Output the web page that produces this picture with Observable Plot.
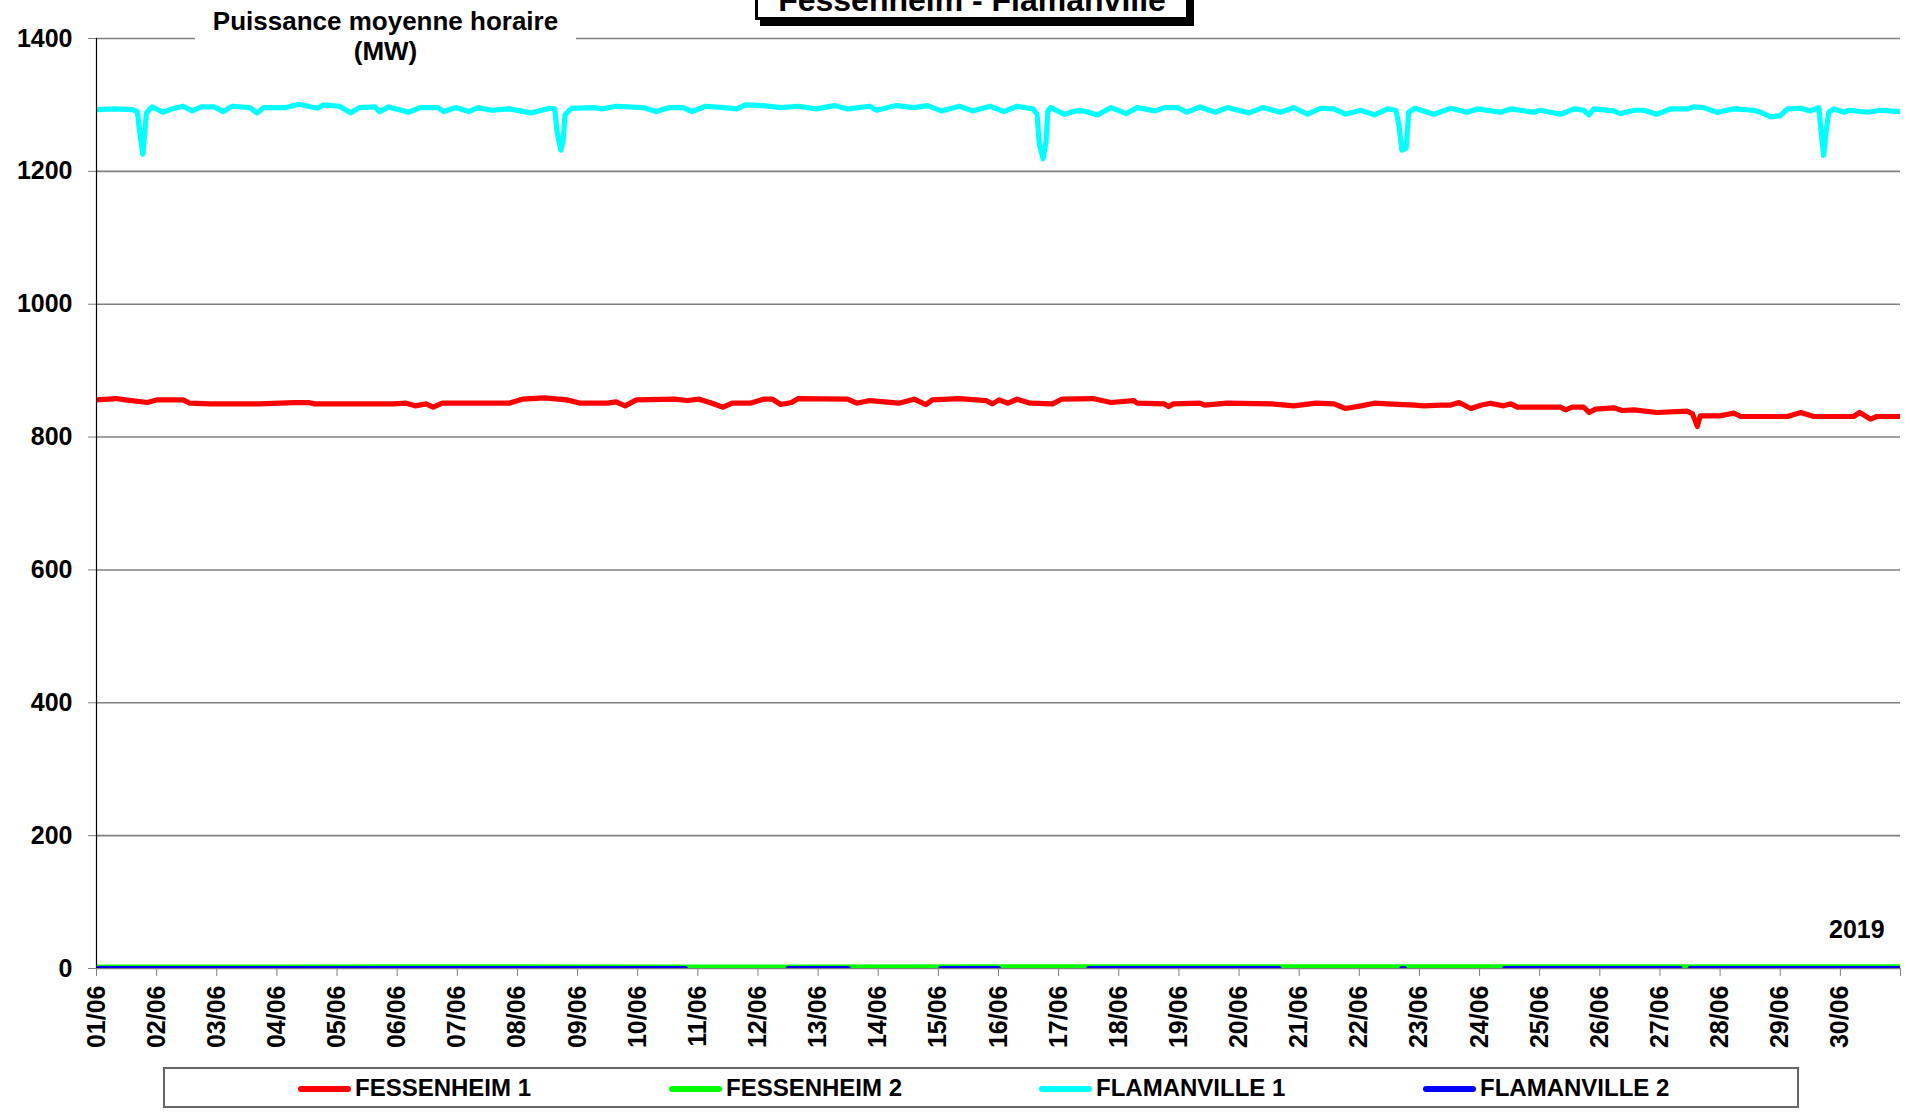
<!DOCTYPE html>
<html>
<head>
<meta charset="utf-8">
<script src="https://cdn.jsdelivr.net/npm/d3@7"></script>
<script src="https://cdn.jsdelivr.net/npm/@observablehq/plot@0.6"></script>
<style>
  html, body { margin: 0; padding: 0; background: #fff; }
  #wrap { position: relative; width: 1910px; height: 1113px; overflow: hidden; background: #fff;
          font-family: "Liberation Sans", Arial, sans-serif; font-weight: bold; color: #000; }
  #chart { position: absolute; left: 0; top: 0; }
  #chart g[aria-label="x-axis tick label"] { font-size: 25px; }
  #chart g[aria-label="y-axis tick label"] { font-size: 25px; }
  .abs { position: absolute; }
  #titlebox { left: 755px; top: -30px; width: 434px; height: 50px; box-sizing: border-box;
              border: 3px solid #000; background: #fff; box-shadow: 5px 6px 0 #000; }
  #titletext { left: 755px; top: -16px; width: 434px; text-align: center; font-size: 32px; line-height: 32px; white-space: nowrap; }
  #ylab { left: 195px; top: 6px; width: 381px; text-align: center; font-size: 26px; line-height: 30px; background: #fff; padding-bottom: 4px; }
  #year { left: 1829px; top: 914px; font-size: 25px; line-height: 30px; }
  #legend { left: 163px; top: 1067px; width: 1636px; height: 41px; box-sizing: border-box; border: 2px solid #666; background: #fff; }
  .sw { position: absolute; top: 17px; width: 53px; height: 6px; border-radius: 3px; }
  .lt { position: absolute; top: 5px; font-size: 24px; line-height: 28px; white-space: nowrap; }
</style>
</head>
<body>
<div id="wrap">
  <div id="chart"></div>
  <div id="titlebox" class="abs"></div>
  <div id="titletext" class="abs">Fessenheim - Flamanville</div>
  <div id="ylab" class="abs">Puissance moyenne horaire<br>(MW)</div>
  <div id="year" class="abs">2019</div>
  <div id="legend" class="abs"></div>
</div>
<script>
// ---- DATA (hours since 01/06/2019 00:00, MW) ----
const seriesNames = ["FESSENHEIM 1", "FESSENHEIM 2", "FLAMANVILLE 1", "FLAMANVILLE 2"];
const seriesColors = ["#ff0000", "#00ff00", "#00ffff", "#0000ff"];

const fess1Hours = [
  0, 7.9, 11.5, 20.4, 24, 34.6, 37.2, 45.4, 55.9, 64.8,
  79.2, 84.5, 87.1, 118.3, 123.6, 127.2, 131.5, 134.4, 138, 154,
  164.6, 169.9, 178.8, 187.7, 193.2, 203.8, 207.4, 211, 215.5, 230.6,
  235.9, 240.5, 244.8, 250.1, 253.7, 260.9, 266.2, 269.8, 273.1, 277.4,
  280.1, 299.8, 303.4, 308.6, 320.2, 326.4, 331, 333.6, 344.2, 355,
  357.6, 360.2, 363.8, 367.4, 372.7, 381.6, 385.2, 397.7, 404.9, 413.8,
  415.4, 426.2, 427.9, 429.8, 440.4, 442.3, 451.2, 469, 477.8, 486.7,
  493.9, 498.5, 504.7, 510, 515.3, 526.1, 529.7, 536.4, 540.2, 543.8,
  548.6, 552.5, 556.3, 561.6, 564.5, 567.1, 584.4, 586.3, 589, 593.5,
  595.7, 598.3, 605.5, 608.9, 613.7, 622.8, 634.8, 637, 638.9, 640.1,
  648.2, 653.5, 656.2, 674.9, 680.2, 685.4, 701.3, 703.7, 708, 710.6,
  720
];
const fess1MW = [
  856, 858, 856, 852, 856, 856, 851, 850, 850, 850,
  852, 852, 850, 850, 851, 847, 850, 845, 851, 851,
  851, 857, 859, 856, 851, 851, 853, 847, 856, 857,
  855, 857, 852, 845, 851, 851, 857, 857, 849, 852,
  858, 857, 851, 855, 851, 857, 849, 856, 858, 855,
  850, 856, 851, 857, 851, 850, 857, 858, 852, 855,
  851, 850, 846, 850, 851, 848, 851, 850, 847, 851,
  850, 843, 847, 851, 850, 848, 847, 848, 848, 852,
  843, 848, 851, 847, 850, 845, 845, 841, 845, 845,
  837, 842, 844, 840, 841, 837, 839, 835, 816, 832,
  832, 836, 831, 831, 837, 831, 831, 837, 827, 831,
  831
];

const fess2Hours = [0, 120, 240, 360, 480, 600, 720];
const fess2MW    = [2, 2.5, 2, 2.5, 2.5, 2.5, 2.5];

const flam1Hours = [
  0, 7.2, 14.4, 16.3, 17.3, 18.5, 19.2, 19.9, 22.1, 26.6,
  29.3, 34.6, 38.2, 41.8, 47, 50.6, 54.2, 61.2, 64.1, 66.7,
  75.6, 80.9, 88.1, 90.7, 97, 101.5, 104.9, 111.1, 113, 116.6,
  124.6, 129.1, 136.1, 138.7, 143.3, 148.6, 152.2, 157.7, 164.6, 173.5,
  180.7, 182.9, 183.8, 185.3, 186.2, 187, 189.6, 198.5, 202, 207.4,
  218.2, 223.4, 228.7, 234.2, 237.6, 243.1, 250.3, 255.6, 258.9, 266.2,
  273.1, 280, 287.3, 294.5, 299.8, 308.6, 311.3, 319.2, 326.4, 331.7,
  337.2, 344.4, 349.7, 356.6, 362.2, 367.4, 373.7, 375.4, 376.3, 377.8,
  379, 379.7, 380.9, 386.2, 390.7, 394, 399.6, 404.9, 411.1, 415.4,
  422.6, 426.2, 431.5, 435.1, 440.4, 446.6, 451.2, 460.1, 465.4, 472.6,
  477.8, 483.4, 488.6, 493.9, 498.5, 504.7, 510, 515.3, 518.6, 519.8,
  521, 522.7, 523.7, 526.1, 533.8, 540.5, 547, 551, 560.4, 564.5,
  573.6, 576.2, 584.4, 589.7, 593.5, 595.7, 597.6, 605.5, 608.2, 613.7,
  617.5, 622.8, 628.3, 634.8, 637.4, 641.5, 646.8, 653.5, 661.4, 664.1,
  668.2, 672, 674.9, 680.2, 684, 687.4, 688.3, 689.3, 690.5, 691.4,
  693.4, 697.4, 699.4, 706.8, 712.1, 720
];
const flam1MW = [
  1293, 1294, 1293, 1290, 1258, 1226, 1255, 1288, 1297, 1289,
  1293, 1298, 1291, 1297, 1297, 1290, 1298, 1296, 1288, 1296,
  1296, 1301, 1295, 1300, 1298, 1288, 1296, 1297, 1290, 1297,
  1289, 1296, 1296, 1290, 1296, 1290, 1296, 1292, 1294, 1288,
  1295, 1294, 1260, 1232, 1245, 1285, 1295, 1296, 1294, 1298,
  1296, 1290, 1296, 1296, 1290, 1298, 1296, 1294, 1300, 1299,
  1296, 1298, 1294, 1299, 1294, 1298, 1292, 1299, 1296, 1299,
  1291, 1298, 1291, 1298, 1290, 1298, 1294, 1286, 1241, 1219,
  1245, 1291, 1296, 1286, 1291, 1291, 1285, 1296, 1287, 1296,
  1291, 1296, 1296, 1289, 1297, 1289, 1296, 1288, 1296, 1289,
  1296, 1286, 1295, 1294, 1286, 1292, 1285, 1294, 1292, 1270,
  1232, 1235, 1289, 1295, 1286, 1295, 1289, 1294, 1289, 1294,
  1289, 1292, 1286, 1294, 1292, 1285, 1294, 1291, 1287, 1292,
  1292, 1286, 1294, 1294, 1297, 1296, 1289, 1294, 1292, 1289,
  1282, 1284, 1294, 1295, 1291, 1296, 1261, 1224, 1266, 1289,
  1294, 1289, 1292, 1289, 1292, 1290
];

const flam2Hours = [0, 235, 236, 275, 276, 300, 301, 336, 337, 360, 361, 395, 396, 472, 473, 520, 521, 522, 523, 561, 562, 632, 633, 635, 636, 720];
const flam2MW    = [0, 0, -8, -8, 0, 0, -8, -8, 0, 0, -8, -8, 0, 0, -8, -8, 0, 0, -8, -8, 0, 0, -8, -8, 0, 0];

const yTicks = [0, 200, 400, 600, 800, 1000, 1200, 1400];

// ---- BUILD ----
const T0 = Date.UTC(2019, 5, 1);
const toDate = h => new Date(T0 + h * 3600000);
const hoursList = [fess1Hours, fess2Hours, flam1Hours, flam2Hours];
const mwList = [fess1MW, fess2MW, flam1MW, flam2MW];
const rows = seriesNames.flatMap((name, i) =>
  hoursList[i].map((h, j) => ({ series: name, t: toDate(h), mw: mwList[i][j] })));

const xStart = new Date(T0);
const xEnd = new Date(Date.UTC(2019, 6, 1));
const dayTicks = d3.utcDay.range(xStart, new Date(+xEnd + 1));
const fmt = d3.utcFormat("%d/%m");

const lineMarks = seriesNames.map((name, i) =>
  Plot.line(rows.filter(r => r.series === name), {
    x: "t", y: "mw", stroke: seriesColors[i], strokeWidth: 5.2,
    strokeLinejoin: "round", strokeLinecap: "round", clip: true
  }));

const chart = Plot.plot({
  width: 1910,
  height: 1060,
  marginTop: 38,
  marginBottom: 92,
  marginLeft: 96,
  marginRight: 10,
  style: { fontFamily: "Liberation Sans, Arial, sans-serif", fontWeight: "bold", fontSize: "24px", background: "#fff", color: "#000" },
  x: { type: "utc", domain: [xStart, xEnd] },
  y: { domain: [0, 1400] },
  marks: [
    Plot.gridY(yTicks, { stroke: "#808080", strokeOpacity: 1, strokeWidth: 1.6 }),
    Plot.axisY(yTicks, { tickSize: 8, tickPadding: 16, stroke: "#808080", fill: "#000", label: null, tickFormat: d => String(d) }),
    Plot.axisX(dayTicks, {
      tickSize: 8, tickPadding: 9, tickRotate: -90, stroke: "#808080", fill: "#000", label: null,
      tickFormat: d => d.getUTCMonth() === 6 ? "" : fmt(d)
    }),
    ...lineMarks,
    Plot.ruleX([xStart], { stroke: "#000", strokeWidth: 1.2 })
  ]
});
document.getElementById("chart").appendChild(chart);

// legend
const legend = document.getElementById("legend");
const swatchX = [133, 504, 874, 1258];
seriesNames.forEach((name, i) => {
  const sw = document.createElement("div");
  sw.className = "sw";
  sw.style.left = swatchX[i] + "px";
  sw.style.background = seriesColors[i];
  legend.appendChild(sw);
  const lt = document.createElement("div");
  lt.className = "lt";
  lt.style.left = (swatchX[i] + 57) + "px";
  lt.textContent = name;
  legend.appendChild(lt);
});
</script>
</body>
</html>
